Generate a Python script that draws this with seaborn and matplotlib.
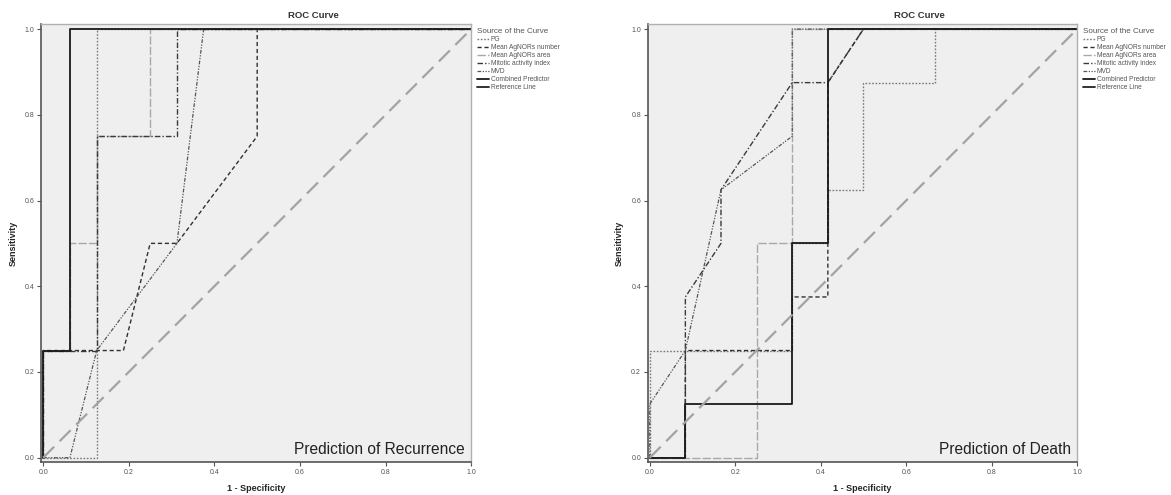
import pandas as pd
import matplotlib
matplotlib.use('Agg')
import matplotlib.pyplot as plt
import seaborn as sns

# Curve names (legend order)
curves = ['PG', 'Mean AgNORs number', 'Mean AgNORs area',
          'Mitotic activity index', 'MVD', 'Combined Predictor']

# Prediction of Recurrence: (1 - specificity, sensitivity) steps per curve
rec_pg_x = [0, 0.125, 0.125, 0.125, 1]
rec_pg_y = [0, 0, 0.25, 1, 1]
rec_num_x = [0, 0, 0.125, 0.1875, 0.25, 0.3125, 0.5, 0.5, 1]
rec_num_y = [0, 0.25, 0.25, 0.25, 0.5, 0.5, 0.75, 1, 1]
rec_area_x = [0, 0, 0.0625, 0.0625, 0.125, 0.125, 0.25, 0.25, 1]
rec_area_y = [0, 0.25, 0.25, 0.5, 0.5, 0.75, 0.75, 1, 1]
rec_mit_x = [0, 0, 0.125, 0.125, 0.3125, 0.3125, 1]
rec_mit_y = [0, 0.25, 0.25, 0.75, 0.75, 1, 1]
rec_mvd_x = [0, 0.0625, 0.125, 0.3125, 0.375, 1]
rec_mvd_y = [0, 0, 0.25, 0.5, 1, 1]
rec_comb_x = [0, 0, 0.0625, 0.0625, 1]
rec_comb_y = [0, 0.25, 0.25, 1, 1]

# Prediction of Death
dth_pg_x = [0, 0, 1/12, 4/12, 4/12, 5/12, 5/12, 6/12, 6/12, 8/12, 8/12, 1]
dth_pg_y = [0, 0.25, 0.25, 0.25, 0.5, 0.5, 0.625, 0.625, 0.875, 0.875, 1, 1]
dth_num_x = [0, 1/12, 1/12, 4/12, 4/12, 5/12, 5/12, 5/12, 6/12, 1]
dth_num_y = [0, 0, 0.25, 0.25, 0.375, 0.375, 0.5, 0.875, 1, 1]
dth_area_x = [0, 1/12, 3/12, 3/12, 4/12, 4/12, 1]
dth_area_y = [0, 0, 0, 0.5, 0.5, 1, 1]
dth_mit_x = [0, 1/12, 1/12, 2/12, 2/12, 4/12, 5/12, 6/12, 1]
dth_mit_y = [0, 0, 0.375, 0.5, 0.625, 0.875, 0.875, 1, 1]
dth_mvd_x = [0, 0, 1/12, 2/12, 4/12, 4/12, 1]
dth_mvd_y = [0, 0.125, 0.25, 0.625, 0.75, 1, 1]
dth_comb_x = [0, 1/12, 1/12, 4/12, 4/12, 5/12, 5/12, 1]
dth_comb_y = [0, 0, 0.125, 0.125, 0.5, 0.5, 1, 1]

ref_x = [0, 1]
ref_y = [0, 1]

ticks = [0.0, 0.2, 0.4, 0.6, 0.8, 1.0]

panels = [
    ('Prediction of Recurrence',
     [(rec_pg_x, rec_pg_y), (rec_num_x, rec_num_y), (rec_area_x, rec_area_y),
      (rec_mit_x, rec_mit_y), (rec_mvd_x, rec_mvd_y), (rec_comb_x, rec_comb_y)]),
    ('Prediction of Death',
     [(dth_pg_x, dth_pg_y), (dth_num_x, dth_num_y), (dth_area_x, dth_area_y),
      (dth_mit_x, dth_mit_y), (dth_mvd_x, dth_mvd_y), (dth_comb_x, dth_comb_y)]),
]

styles = {
    'PG': dict(color='#7a7a7a', linestyle=(0, (1.2, 1.2)), linewidth=1.0),
    'Mean AgNORs number': dict(color='#303030', linestyle=(0, (3, 2)), linewidth=1.0),
    'Mean AgNORs area': dict(color='#a8a8a8', linestyle=(0, (6, 1.5)), linewidth=1.0),
    'Mitotic activity index': dict(color='#3a3a3a', linestyle=(0, (4, 1.5, 1, 1.5)), linewidth=1.0),
    'MVD': dict(color='#555555', linestyle=(0, (3, 1.2, 1, 1.2, 1, 1.2)), linewidth=0.9),
    'Combined Predictor': dict(color='#1a1a1a', linestyle='-', linewidth=1.3),
}

sns.set_style('white', {'axes.facecolor': '#efefef'})
plt.rcParams['font.family'] = ['Liberation Sans', 'DejaVu Sans']

fig = plt.figure(figsize=(11.71, 4.95), dpi=100)
positions = [[0.0354, 0.0667, 0.367, 0.885], [0.5534, 0.0667, 0.3665, 0.885]]

for pos, (name, data) in zip(positions, panels):
    ax = fig.add_axes(pos)
    for label, (xs, ys) in zip(curves, data):
        df = pd.DataFrame({'x': xs, 'y': ys})
        sns.lineplot(data=df, x='x', y='y', ax=ax, sort=False, estimator=None,
                     label=label, **styles[label])
    ref = pd.DataFrame({'x': ref_x, 'y': ref_y})
    sns.lineplot(data=ref, x='x', y='y', ax=ax, sort=False, estimator=None,
                 label='Reference Line', color='#a3a3a3',
                 linestyle=(0, (7, 3.5)), linewidth=1.6)

    ax.set_xlim(-0.004, 1.0)
    ax.set_ylim(-0.01, 1.012)
    ax.set_xticks(ticks)
    ax.set_yticks(ticks)
    ax.set_xticklabels([f'{t:.1f}' for t in ticks])
    ax.set_yticklabels([f'{t:.1f}' for t in ticks])
    ax.tick_params(axis='both', labelsize=5, colors='#555555', length=3,
                   width=0.8, direction='out', pad=2, left=True, bottom=True)
    for side in ['left', 'bottom']:
        ax.spines[side].set_color('#555555')
        ax.spines[side].set_linewidth(1.2)
    for side in ['top', 'right']:
        ax.spines[side].set_color('#b0b0b0')
        ax.spines[side].set_linewidth(1.0)

    ax.set_xlabel('1 - Specificity', fontsize=6.5, fontweight='bold', labelpad=6)
    ax.set_ylabel('Sensitivity', fontsize=6.5, fontweight='bold', labelpad=5)
    ax.set_title('ROC Curve', fontsize=6.8, fontweight='bold', x=0.632, pad=4,
                 color='#333333')
    ax.text(0.985, 0.012, name, transform=ax.transAxes, ha='right', va='bottom',
            fontsize=11.2, color='#222222')

    leg = ax.legend(loc='upper left', bbox_to_anchor=(1.004, 1.0), frameon=False,
                    fontsize=4.8, title='Source of the Curve', title_fontsize=5.8,
                    handlelength=1.8, handletextpad=0.3, labelspacing=0.15,
                    borderaxespad=0.2)
    leg._legend_box.align = 'left'
    leg.get_title().set_color('#555555')
    for t in leg.get_texts():
        t.set_color('#555555')
    h = leg.legend_handles[-1]
    h.set_color('#222222')
    h.set_linestyle('-')
    h.set_linewidth(1.3)

fig.savefig('out.png', dpi=100)
